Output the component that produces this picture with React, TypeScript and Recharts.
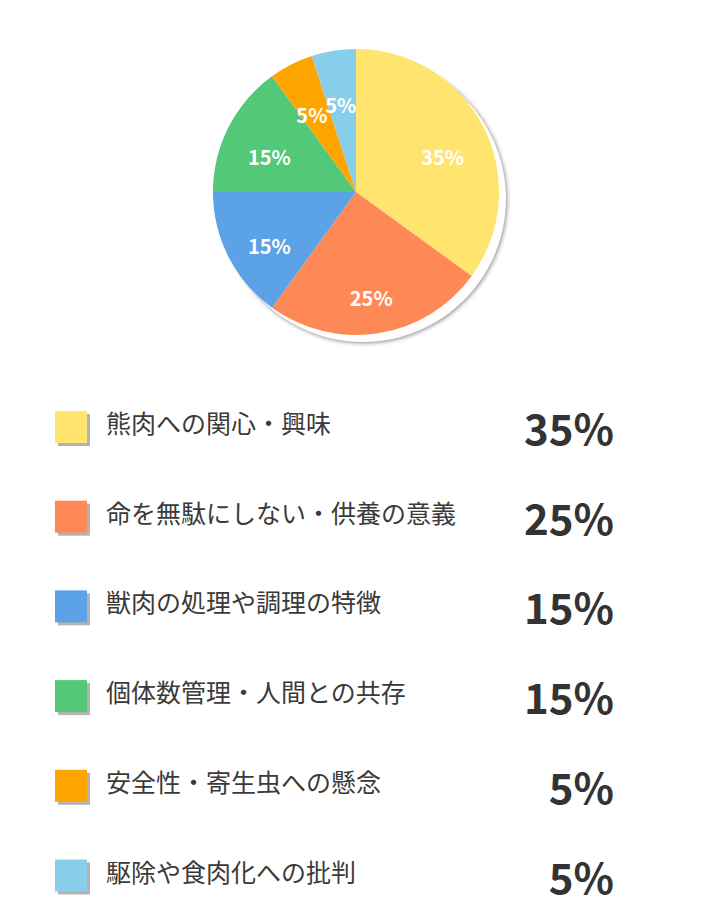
import { PieChart, Pie, Cell } from 'recharts'

const LABELS = [
  '熊肉への関心・興味',
  '命を無駄にしない・供養の意義',
  '獣肉の処理や調理の特徴',
  '個体数管理・人間との共存',
  '安全性・寄生虫への懸念',
  '駆除や食肉化への批判',
]
const VALUES = [35, 25, 15, 15, 5, 5]
const COLORS = ['#FFE46E', '#FF8956', '#5BA3E6', '#52C878', '#FFA500', '#87CEEB']

const FONT = '"Noto Sans CJK JP", "Noto Sans", sans-serif'
const RAD = Math.PI / 180

const data = LABELS.map((name, i) => ({ name, value: VALUES[i] }))

// label sits a bit inside the mid radius, nudged down like the original
function SliceLabel(props: any) {
  const { cx, cy, midAngle, outerRadius, value } = props
  const r = outerRadius * 0.68
  const x = cx + r * Math.cos(-midAngle * RAD)
  const y = cy + r * Math.sin(-midAngle * RAD) + 9
  return (
    <text x={x} y={y} fill="#fff" textAnchor="middle" dominantBaseline="central"
      fontFamily={FONT} fontWeight={700} fontSize={20}>
      {value}%
    </text>
  )
}

export default function App() {
  const rowTop = (i: number) => 411 + i * 89.7
  return (
    <div style={{ position: 'absolute', left: 0, top: 0, width: 715, height: 901, background: '#fff' }}>
      <div style={{ position: 'absolute', left: 0, top: 0 }}>
        <PieChart width={715} height={370} margin={{ top: 0, right: 0, bottom: 0, left: 0 }}>
          <Pie data={[{ v: 1 }]} dataKey="v" cx={363} cy={199} outerRadius={143}
            startAngle={90} endAngle={-270} fill="#fff" stroke="none"
            style={{ filter: 'drop-shadow(1px 1px 2px rgba(0,0,0,0.45))' }}
            isAnimationActive={false} />
          <Pie data={data} dataKey="value" cx={356} cy={192} outerRadius={143}
            startAngle={90} endAngle={-270} stroke="none" labelLine={false}
            label={SliceLabel} isAnimationActive={false}>
            {data.map((d, i) => <Cell key={d.name} fill={COLORS[i]} />)}
          </Pie>
        </PieChart>
      </div>
      <svg width={715} height={901} style={{ position: 'absolute', left: 0, top: 0 }}>
        {LABELS.map((name, i) => {
          const top = rowTop(i)
          return (
            <g key={name}>
              <rect x={58} y={top + 3} width={32} height={32} fill="#b3b3b3" />
              <rect x={55} y={top} width={32} height={32} fill={COLORS[i]} />
              <text x={106} y={top + 22} fontFamily={FONT} fontSize={25} fill="#3a3a3a">{name}</text>
              <text x={614} y={top + 34} textAnchor="end" fontFamily={FONT} fontSize={42}
                fontWeight={700} fill="#333">{VALUES[i]}%</text>
            </g>
          )
        })}
      </svg>
    </div>
  )
}
